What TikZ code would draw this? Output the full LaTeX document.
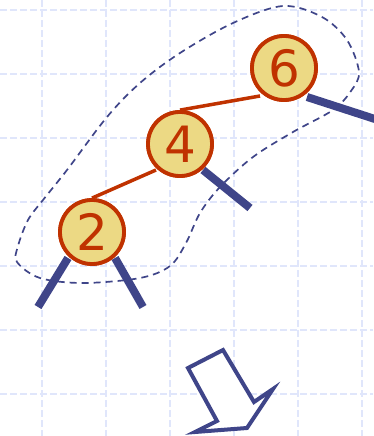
\documentclass[tikz,border=0pt]{standalone}
\usepackage{fontspec}
\setmainfont{DejaVu Sans}
\definecolor{gridc}{HTML}{E0E6FB}
\definecolor{nodefill}{HTML}{ECD984}
\definecolor{nodered}{HTML}{C03200}
\definecolor{navy}{HTML}{3F4589}
\tikzset{
  gridline/.style={gridc, line width=1.6pt, dash pattern=on 7pt off 3pt},
  keynode/.style={circle, draw=nodered, fill=nodefill, line width=3.8pt, minimum size=64pt, inner sep=0pt, text=nodered, font=\fontsize{50}{50}\selectfont},
  redge/.style={nodered, line width=3.5pt},
  leaf/.style={navy, line width=8pt},
  outline/.style={navy, line width=1.7pt, dash pattern=on 7pt off 5pt},
  bigarrow/.style={navy, line width=4pt, line join=miter, fill=white}
}
\begin{document}
\begin{tikzpicture}[x=1pt, y=-1pt]
\useasboundingbox (0,0) rectangle (373,436);
\foreach \x in {42,106,170,234,298,362} \draw[gridline] (\x,0) -- (\x,436);
\foreach \y in {10,74,138,202,266,330,394} \draw[gridline] (0,\y) -- (373,\y);
% dashed outline
\draw[outline] plot[smooth cycle, tension=0.55] coordinates {
 (283,6) (322,17) (347,40) (359,72) (351,91) (333,110) (293,132) (253,157) (220,187) (200,213)
 (186,243) (170,266) (140,278) (83,283) (40,278) (17,262) (18,246) (28,220) (43,200)
 (67,170) (107,117) (140,83) (180,53) (233,23)};
% nodes
\node[keynode] (n6) at (284,68) {6};
\node[keynode] (n4) at (180,144) {4};
\node[keynode] (n2) at (92,232) {2};
% leaves
\coordinate (l6) at (378,120);
\coordinate (l4) at (250,208);
\coordinate (l2a) at (38,307);
\coordinate (l2b) at (143,307);
\draw[leaf] (n6) ++(23,29) -- (l6);
\draw[leaf] (n4) ++(23,26) -- (l4);
\draw[leaf] (n2) ++(-24,26) -- (l2a);
\draw[leaf] (n2) ++(23,26) -- (l2b);
\node[keynode] at (n6) {6};
\node[keynode] at (n4) {4};
\node[keynode] at (n2) {2};
% edges
\draw[redge] (n6.south west) ++(0,4) coordinate (e6) (e6) -- (n4.north);
\draw[redge] (n4) ++(-24,26) coordinate (e4) (e4) -- (n2.north);
% arrow
\draw[bigarrow] (188,368) coordinate (a1) -- (223,350) coordinate (a2) -- (254,402) coordinate (a3) -- (273,389) coordinate (a4)
  -- (247,428) coordinate (a5) -- (195,432) coordinate (a6) -- (217,421) coordinate (a7) -- cycle;
\end{tikzpicture}
\end{document}
